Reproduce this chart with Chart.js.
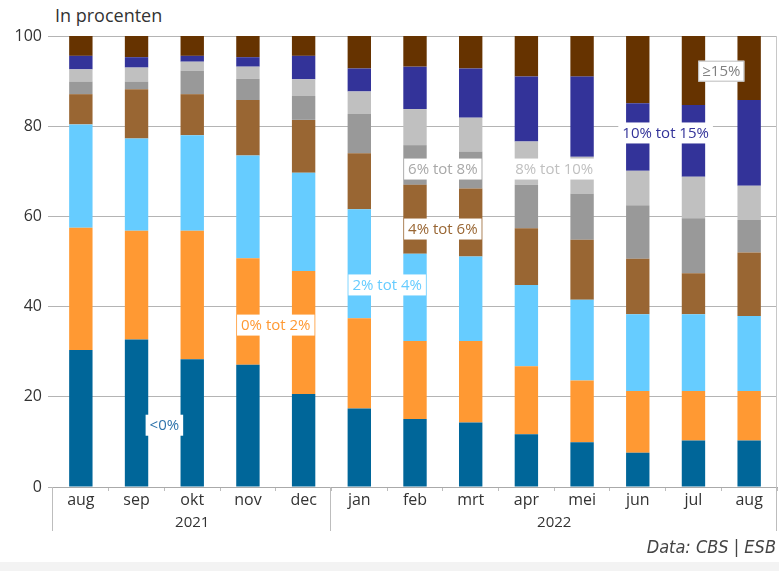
<!DOCTYPE html>
<html>
<head>
<meta charset="utf-8">
<script src="https://cdn.jsdelivr.net/npm/chart.js@4.4.1/dist/chart.umd.min.js"></script>
<style>
  html, body { margin: 0; padding: 0; background: #fff; }
  body { width: 779px; height: 571px; position: relative; overflow: hidden; font-family: "Open Sans", sans-serif; }
  #wrap { position: absolute; left: 0; top: 0; width: 779px; height: 540px; }
  #title { position: absolute; left: 55px; top: 3px; font-size: 18px; color: #333; }
  #source { position: absolute; right: 3px; top: 536px; font-family: "Liberation Sans Narrow", "DejaVu Sans Condensed", sans-serif; font-style: italic; font-size: 18px; color: #444; }
  #strip { position: absolute; left: 0; top: 562px; width: 779px; height: 9px; background: #f3f3f3; }
</style>
</head>
<body>
<div id="title">In procenten</div>
<div id="wrap"><canvas id="chart"></canvas></div>
<div id="source">Data: CBS | ESB</div>
<div id="strip"></div>
<script>
// Categories
const months = ["aug", "sep", "okt", "nov", "dec", "jan", "feb", "mrt", "apr", "mei", "jun", "jul", "aug"];
const years = ["2021", "2022"];
const yTicks = [0, 20, 40, 60, 80, 100];

// Share per inflation class, in percent
const below0 = [30.4, 32.7, 28.3, 27.1, 20.6, 17.4, 15.1, 14.3, 11.7, 9.9, 7.6, 10.3, 10.3];
const from0to2 = [27.1, 24.1, 28.5, 23.6, 27.3, 20.0, 17.3, 18.1, 15.1, 13.7, 13.7, 11.0, 11.0];
const from2to4 = [22.9, 20.5, 21.2, 22.8, 21.8, 24.2, 19.3, 18.7, 18.0, 17.9, 17.0, 17.0, 16.6];
const from4to6 = [6.7, 10.9, 9.1, 12.3, 11.7, 12.4, 15.3, 15.1, 12.6, 13.3, 12.3, 9.1, 14.1];
const from6to8 = [2.8, 1.7, 5.2, 4.7, 5.3, 8.7, 8.8, 8.2, 9.6, 10.3, 11.9, 12.2, 7.2];
const from8to10 = [2.7, 3.1, 2.0, 2.7, 3.7, 5.0, 8.0, 7.5, 9.6, 8.1, 7.6, 9.2, 7.6];
const from10to15 = [3.0, 2.3, 1.3, 2.1, 5.2, 5.1, 9.4, 10.9, 14.4, 17.8, 15.0, 15.9, 19.0];
const from15 = [4.4, 4.7, 4.4, 4.7, 4.4, 7.2, 6.8, 7.2, 9.0, 9.0, 14.9, 15.3, 14.2];

const seriesNames = ["<0%", "0% tot 2%", "2% tot 4%", "4% tot 6%", "6% tot 8%", "8% tot 10%", "10% tot 15%", "≥15%"];
const seriesData = [below0, from0to2, from2to4, from4to6, from6to8, from8to10, from10to15, from15];
const seriesColors = ["#006699", "#ff9933", "#66ccff", "#996633", "#999999", "#c0c0c0", "#333399", "#663300"];

// In-chart labels: text colour, position as (category index, value)
const labelSpots = [
  { text: "<0%", color: "#2f74ab", x: 1.5, y: 13.7 },
  { text: "0% tot 2%", color: "#ff9933", x: 3.5, y: 35.9 },
  { text: "2% tot 4%", color: "#66ccff", x: 5.5, y: 44.8 },
  { text: "4% tot 6%", color: "#996633", x: 6.5, y: 57.2 },
  { text: "6% tot 8%", color: "#a8a8a8", x: 6.5, y: 70.5 },
  { text: "8% tot 10%", color: "#c0c0c0", x: 8.5, y: 70.5 },
  { text: "10% tot 15%", color: "#333399", x: 10.5, y: 78.5 },
  { text: "≥15%", color: "#808080", x: 11.5, y: 92.2, border: true },
];

const overlayPlugin = {
  id: "overlay",
  afterDatasetsDraw(chart) {
    const { ctx, chartArea, scales } = chart;
    const x = scales.x;
    const y = scales.y;
    ctx.save();
    // right border of the plot
    ctx.strokeStyle = "#c8c8c8";
    ctx.lineWidth = 1;
    ctx.beginPath();
    ctx.moveTo(chartArea.right - 0.5, chartArea.top);
    ctx.lineTo(chartArea.right - 0.5, chartArea.bottom);
    ctx.stroke();

    ctx.font = "15px 'Open Sans', sans-serif";
    ctx.textAlign = "center";
    ctx.textBaseline = "middle";
    labelSpots.forEach((l) => {
      const px = x.getPixelForValue(l.x);
      const py = y.getPixelForValue(l.y);
      const w = ctx.measureText(l.text).width + 8;
      const h = 21;
      ctx.fillStyle = "#fff";
      ctx.fillRect(px - w / 2, py - h / 2, w, h);
      if (l.border) {
        ctx.strokeStyle = "#bbb";
        ctx.strokeRect(px - w / 2 + 0.5, py - h / 2 + 0.5, w - 1, h - 1);
      }
      ctx.fillStyle = l.color;
      ctx.fillText(l.text, px, py + 1);
    });
    ctx.restore();
  },
  afterDraw(chart) {
    const { ctx, chartArea, scales } = chart;
    const x = scales.x;
    ctx.save();
    // year separators below the axis
    ctx.strokeStyle = "#bdbdbd";
    ctx.lineWidth = 1;
    [-0.5, 4.5, months.length - 0.5].forEach((v) => {
      const px = Math.round(x.getPixelForValue(v)) - 0.5;
      ctx.beginPath();
      ctx.moveTo(px, chartArea.bottom);
      ctx.lineTo(px, chartArea.bottom + 44);
      ctx.stroke();
    });
    ctx.fillStyle = "#333";
    ctx.font = "15px 'Open Sans', sans-serif";
    ctx.textAlign = "center";
    ctx.textBaseline = "middle";
    ctx.fillText(years[0], x.getPixelForValue(2), chartArea.bottom + 36);
    ctx.fillText(years[1], x.getPixelForValue(8.5), chartArea.bottom + 36);
    ctx.restore();
  },
};

const ctx = document.getElementById("chart").getContext("2d");
const chart = new Chart(ctx, {
  type: "bar",
  data: {
    labels: months,
    datasets: seriesData.map((d, i) => ({
      label: seriesNames[i],
      data: d,
      backgroundColor: seriesColors[i],
      borderWidth: 0,
      barPercentage: 0.42,
      categoryPercentage: 1,
    })),
  },
  options: {
    responsive: true,
    maintainAspectRatio: false,
    animation: false,
    layout: { padding: { top: 36, right: 2, left: 0, bottom: 0 } },
    plugins: {
      legend: { display: false },
      tooltip: { enabled: false },
    },
    scales: {
      x: {
        stacked: true,
        offset: true,
        grid: {
          offset: true,
          drawOnChartArea: false,
          drawTicks: true,
          tickLength: 4,
          color: "#bdbdbd",
        },
        border: { display: true, color: "#aaa" },
        ticks: {
          color: "#333",
          font: { family: "'Open Sans', sans-serif", size: 16 },
          padding: 0,
          maxRotation: 0,
          autoSkip: false,
        },
        afterFit: (scale) => {
          scale.height = 53;
        },
      },
      y: {
        stacked: true,
        min: 0,
        max: 100,
        afterBuildTicks: (scale) => {
          scale.ticks = yTicks.map((v) => ({ value: v }));
        },
        grid: { color: "#b4b4b4", tickLength: 5 },
        border: { display: false },
        ticks: {
          color: "#333",
          font: { family: "'Open Sans', sans-serif", size: 16 },
          padding: 6,
        },
        afterFit: (scale) => {
          scale.width = 53;
        },
      },
    },
  },
  plugins: [overlayPlugin],
});
</script>
</body>
</html>
